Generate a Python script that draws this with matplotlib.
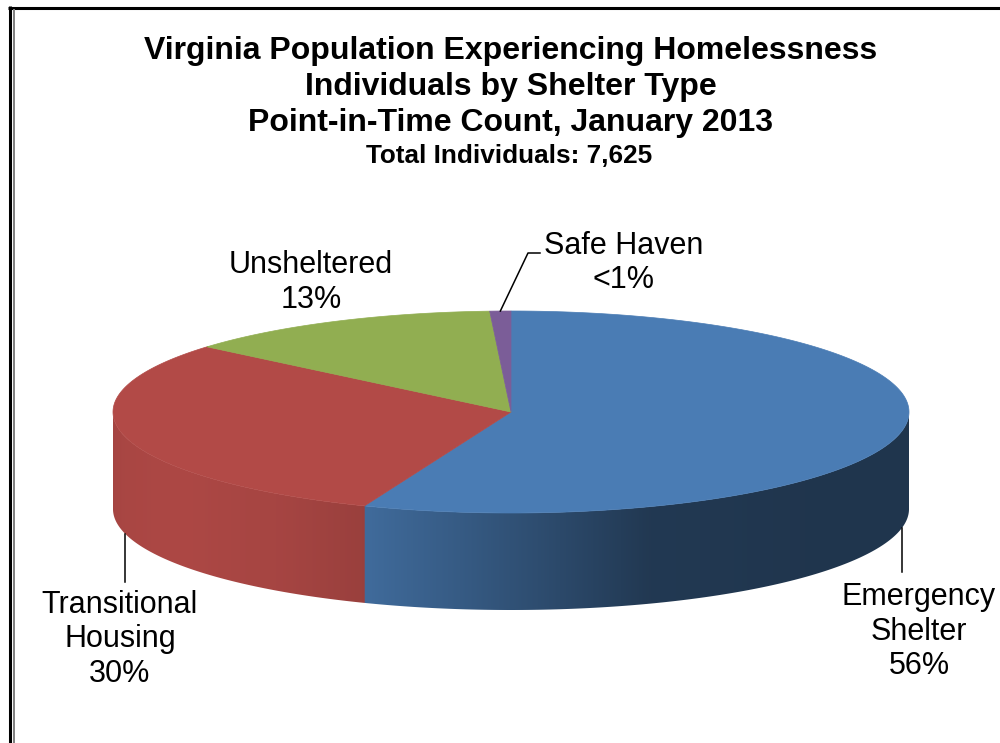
import numpy as np
import matplotlib.pyplot as plt
from matplotlib.colors import to_rgb
from matplotlib.patches import Polygon

# Point-in-Time count, January 2013 (individuals)
categories = ['Emergency\nShelter', 'Transitional\nHousing', 'Unsheltered', 'Safe Haven']
counts = [4270, 2300, 990, 65]
colors = ['#4A7CB4', '#B24A47', '#91AE51', '#7B5D98']
total = sum(counts)

title_lines = ['Virginia Population Experiencing Homelessness',
               'Individuals by Shelter Type',
               'Point-in-Time Count, January 2013']
subtitle = f'Total Individuals: {total:,}'

plt.rcParams['font.family'] = ['Liberation Sans', 'DejaVu Sans']

fig = plt.figure(figsize=(10, 7.43), dpi=100)
ax = fig.add_axes([0, 0, 1, 1])
ax.set_xlim(0, 1000)
ax.set_ylim(743, 0)
ax.axis('off')

# ellipse geometry of the tilted pie (pixels)
cx, cy, rx, ry, depth = 511, 412, 398, 101, 97


def rim(t_deg, drop=0.0):
    t = np.radians(t_deg)
    return cx + rx * np.cos(t), cy - ry * np.sin(t) + drop


# side wall lighting as a function of the rim angle (front half only)
shade_t = [180, 194, 215, 235, 249, 262, 276, 290, 320, 360]
shade_f = [0.92, 0.95, 0.97, 0.93, 0.86, 0.74, 0.60, 0.46, 0.43, 0.43]

fracs = np.array(counts) / total
starts = 90 - 360 * np.concatenate([[0], np.cumsum(fracs)[:-1]])
ends = starts - 360 * fracs


def slice_at(t_deg):
    # angle measured clockwise from 12 o'clock
    cw = (90 - t_deg) % 360
    edges = np.cumsum(fracs) * 360
    return int(np.searchsorted(edges, cw, side='right').clip(0, len(fracs) - 1))


# side wall: one shaded row of colour per pixel column, clipped to the wall outline
ncols = 1600
xs_img = np.linspace(cx - rx, cx + rx, ncols)
t_img = 360 - np.degrees(np.arccos(np.clip((xs_img - cx) / rx, -1, 1)))
row = np.array([np.clip(np.array(to_rgb(colors[slice_at(t)])) * np.interp(t, shade_t, shade_f), 0, 1)
                for t in t_img])
img = ax.imshow(row[None, :, :], extent=[cx - rx, cx + rx, cy + ry + depth + 2, cy - 2],
                aspect='auto', interpolation='bilinear', zorder=1)
tf = np.linspace(180, 360, 400)
ux, uy = rim(tf)
lx, ly = rim(tf[::-1], depth)
wall = Polygon(np.column_stack([np.r_[ux, lx], np.r_[uy, ly]]), closed=True,
               facecolor='none', edgecolor='none', transform=ax.transData)
ax.add_patch(wall)
img.set_clip_path(wall)
ax.set_xlim(0, 1000)
ax.set_ylim(743, 0)

# top face
for s, e, col in zip(starts, ends, colors):
    ts = np.linspace(s, e, 300)
    xs, ys = rim(ts)
    pts = np.column_stack([np.r_[cx, xs], np.r_[cy, ys]])
    ax.add_patch(Polygon(pts, closed=True, facecolor=col, edgecolor=col, linewidth=0.5, zorder=2))

# labels and leader lines
fs = 22
step = 34.5
mids = (starts + ends) / 2


def label(lines, x, y0):
    for i, ln in enumerate(lines):
        ax.text(x, y0 + i * step, ln, fontsize=fs, ha='center', va='baseline', color='black', zorder=5)


def pct_text(f):
    p = f * 100
    return '<1%' if p < 1 else f'{p:.0f}%'


# Emergency Shelter (front right)
x, y = rim(mids[0], depth)
ax.plot([x, x], [y, 572], color='black', lw=1.1, zorder=4)
label(categories[0].split('\n') + [pct_text(fracs[0])], 919, 605)

# Transitional Housing (front left)
x, y = rim(mids[1], depth)
ax.plot([x, x], [y, 582], color='black', lw=1.1, zorder=4)
label(categories[1].split('\n') + [pct_text(fracs[1])], 120, 613)

# Unsheltered
label([categories[2], pct_text(fracs[2])], 311, 273)

# Safe Haven
x, y = rim(mids[3])
ax.plot([x, 528, 540], [y, 253, 253], color='black', lw=1.1, zorder=4)
label([categories[3], pct_text(fracs[3])], 624, 254)

# title block
for ln, yb in zip(title_lines, [59, 95, 131]):
    ax.text(511, yb, ln, fontsize=23, fontweight='bold', ha='center', va='baseline')
ax.text(509, 163, subtitle, fontsize=18.8, fontweight='bold', ha='center', va='baseline')

# chart frame
ax.plot([8, 1000], [7.5, 7.5], color='black', lw=2.2, solid_capstyle='butt')
ax.plot([9.5, 9.5], [6, 743], color='black', lw=2.2, solid_capstyle='butt')
ax.plot([14, 14], [9, 743], color='#808080', lw=1.4, solid_capstyle='butt')

fig.savefig('out.png', dpi=100)
